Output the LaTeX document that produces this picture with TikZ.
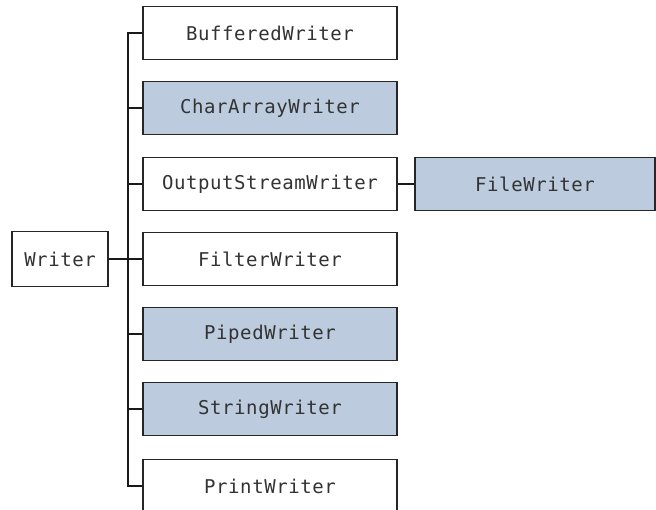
\documentclass[tikz,border=0pt]{standalone}
\usepackage{fontspec}
\setmonofont[LetterSpace=3]{DejaVu Sans Mono}
\usepackage{xcolor}
\usetikzlibrary{positioning, calc}

\definecolor{classblue}{RGB}{188,204,222}

\begin{document}
\begin{tikzpicture}[x=1pt, y=-1pt,
    cls/.style={draw=black!85, line width=1.6pt, fill=white, text=black!80,
        font=\ttfamily\fontsize{19}{22}\selectfont,
        minimum height=53pt, inner sep=0pt},
    sub/.style={cls, minimum width=254pt},
    conc/.style={fill=classblue},
    link/.style={draw=black!90, line width=1.6pt}]
    \useasboundingbox (0,0) rectangle (656,510);

    \node[cls, minimum width=96pt, minimum height=55pt] (writer) at (60,259) {Writer};

    \node[sub] (buffered) at (270,33) {BufferedWriter};
    \node[sub, conc] (chararray) at (270,108) {CharArrayWriter};
    \node[sub] (outstream) at (270,184) {OutputStreamWriter};
    \node[sub] (filter) at (270,259) {FilterWriter};
    \node[sub, conc] (piped) at (270,334) {PipedWriter};
    \node[sub, conc] (string) at (270,409) {StringWriter};
    \node[sub] (print) at (270,486) {PrintWriter};

    \node[cls, conc, minimum width=240pt] (filewriter) at (535,184) {FileWriter};

    % trunk from Writer to each subclass
    \foreach \c in {buffered, chararray, outstream, filter, piped, string, print}
        \draw[link] (writer.east) -- ++(19,0) |- (\c.west);

    \draw[link] (outstream) -- (filewriter);
\end{tikzpicture}
\end{document}
